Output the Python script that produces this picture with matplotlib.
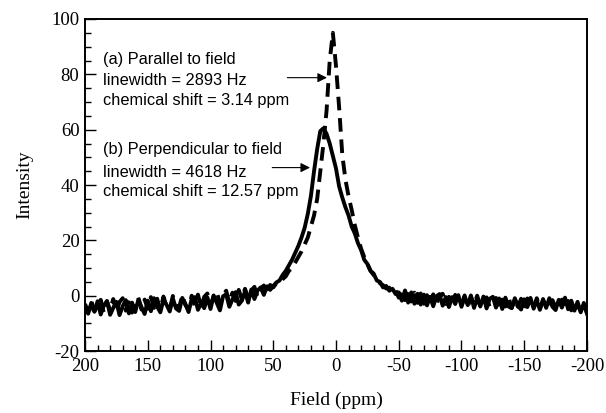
import numpy as np
import matplotlib.pyplot as plt

plt.rcParams['axes.unicode_minus'] = False

# field axis, ppm (spectrometer grid, 2.5 ppm steps from 200 to -200)
field = np.linspace(200, -200, 161)

# (b) perpendicular to field - solid
perp = [
    -4.2, -6.5, -2.6, -5.8, -2.0, -6.8, -3.5, -1.9, -6.9, -4.4,
    -2.2, -7.0, -3.8, -1.6, -6.4, -2.5, -5.9, -1.4, -4.1, -6.6,
    -1.8, -5.6, -0.9, -3.9, -6.0, -1.5, -3.3, -5.7, -1.0, -4.6,
    -5.5, -0.8, -3.0, -5.9, -1.2, -0.5, -5.1, -2.7, -4.5, -0.6,
    -4.8, 0.1, -2.6, -5.3, -0.2, 0.5, -4.0, -1.4, 1.3, -3.2,
    -1.8, 1.6, -2.5, 2.2, -1.2, 1.9, 3.0, 0.3, 3.4, 2.1,
    3.5, 4.8, 5.5, 7.5, 9.0, 11.0, 13.0, 15.5, 18.0, 21.0,
    24.5, 29.5, 36.0, 45.0, 53.0, 59.5, 60.5, 58.5, 55.0, 50.5,
    46.0, 39.5, 35.5, 32.0, 29.0, 25.0, 22.5, 19.0, 16.5, 13.0,
    11.5, 9.0, 8.0, 5.5, 5.0, 3.0, 3.5, 1.8, 2.5, 0.6,
    1.2, -1.8, 1.9, -2.5, 1.2, -2.9, 0.7, -3.2, 0.4, -3.5,
    -0.4, -3.8, -0.2, 0.6, -3.6, -0.5, -4.1, -0.5, -3.0, 0.2,
    -4.0, -0.6, -3.4, 0.1, -4.4, -0.8, -3.9, -0.3, -4.6, -1.1,
    -0.4, -4.3, -1.0, -4.8, -0.7, -3.9, -4.5, -0.9, -3.7, -5.0,
    -1.3, -4.1, -0.8, -4.7, -1.6, -5.1, -1.2, -4.4, -0.9, -4.0,
    -5.2, -1.5, -4.3, -0.7, -4.9, -1.8, -5.4, -2.2, -6.0, -2.6, -6.5,
]

# (a) parallel to field - dashed
para = [
    -3.0, -5.8, -1.8, -5.6, -3.9, -1.5, -6.3, -2.1, -5.2, -1.2,
    -5.8, -2.3, -0.9, -5.4, -1.7, -6.1, -2.0, -0.7, -5.0, -1.4,
    -4.7, -0.5, -4.4, -1.1, -5.3, -0.3, -3.9, -4.8, -0.1, -3.6,
    -4.2, 0.1, -3.4, -4.9, 0.0, -3.8, 0.4, -4.1, -0.4, 0.8,
    -3.5, -0.1, 1.4, -2.9, 0.3, 1.8, -2.6, 1.1, -1.9, 2.1,
    -1.4, 2.5, -0.8, 1.9, 3.2, -0.5, 2.6, 3.7, 0.8, 3.9,
    3.0, 4.5, 4.0, 6.0, 7.0, 9.0, 10.0, 12.0, 14.0, 16.0,
    18.5, 21.0, 25.0, 29.0, 35.0, 45.0, 55.0, 67.0, 85.0, 95.0,
    83.0, 68.0, 51.0, 42.0, 36.0, 31.0, 25.5, 21.0, 17.0, 14.0,
    11.5, 9.0, 7.5, 6.0, 4.5, 3.8, 2.6, 2.9, 1.4, 1.9,
    -0.7, 2.0, -1.6, 1.7, -2.1, 1.1, -2.6, 0.8, -2.9, 0.2,
    -2.7, 0.5, -3.3, 0.0, 0.7, -3.0, -0.4, -3.5, 0.3, -2.8,
    -3.2, 0.1, -4.0, -0.5, -3.1, 0.0, -3.7, -3.2, -0.6, -4.1,
    -3.5, -0.8, -4.2, -1.4, -3.9, -0.6, -4.4, -1.6, -4.0, -1.1,
    -4.5, -1.0, -3.8, -4.3, -0.9, -4.6, -1.9, -3.3, -4.8, -1.6,
    -4.1, -5.0, -1.4, -4.5, -1.9, -5.3, -2.7, -3.7, -5.5, -2.9, -6.2,
]

label_a = ["(a) Parallel to field", "linewidth = 2893 Hz",
           "chemical shift = 3.14 ppm"]
label_b = ["(b) Perpendicular to field", "linewidth = 4618 Hz",
           "chemical shift = 12.57 ppm"]

serif = "Liberation Serif"
sans = "Liberation Sans"

fig = plt.figure(figsize=(6.06, 4.13), dpi=100)
ax = fig.add_axes([0.1403, 0.150, 0.8283, 0.804])

ax.plot(field, perp, color="black", lw=2.8, solid_joinstyle="round")
ax.plot(field, para, color="black", lw=2.8, dashes=(3.5, 2.0))

ax.set_xlim(200, -200)
ax.set_ylim(-20, 100)
ax.set_xticks(np.arange(200, -201, -50))
ax.set_xticks(np.arange(200, -201, -10), minor=True)
ax.set_yticks(np.arange(-20, 101, 20))
ax.set_yticks(np.arange(-20, 101, 5), minor=True)
ax.tick_params(which="both", direction="in", top=False, right=False,
               width=1.0)
ax.tick_params(which="major", length=8)
ax.tick_params(which="minor", length=4)
ax.tick_params(axis="x", pad=5)
ax.tick_params(axis="y", pad=4)
for lab in ax.get_xticklabels() + ax.get_yticklabels():
    lab.set_fontfamily(serif)
    lab.set_fontsize(13.5)
for sp in ax.spines.values():
    sp.set_linewidth(1.4)

ax.set_xlabel("Field (ppm)", fontfamily=serif, fontsize=14, labelpad=12)
ax.set_ylabel("Intensity", fontfamily=serif, fontsize=14, labelpad=13)

for y, txt in zip([85.3, 77.7, 70.5], label_a):
    ax.text(186, y, txt, fontfamily=sans, fontsize=11.8, va="center")
for y, txt in zip([52.8, 44.5, 37.6], label_b):
    ax.text(186, y, txt, fontfamily=sans, fontsize=11.8, va="center")

ax.annotate("", xy=(5, 78.8), xytext=(41, 78.8),
            arrowprops=dict(arrowstyle="-|>", color="black", lw=0.8,
                            mutation_scale=14))
ax.annotate("", xy=(18.5, 46.3), xytext=(53, 46.3),
            arrowprops=dict(arrowstyle="-|>", color="black", lw=0.8,
                            mutation_scale=14))

fig.savefig("out.png", dpi=100)
